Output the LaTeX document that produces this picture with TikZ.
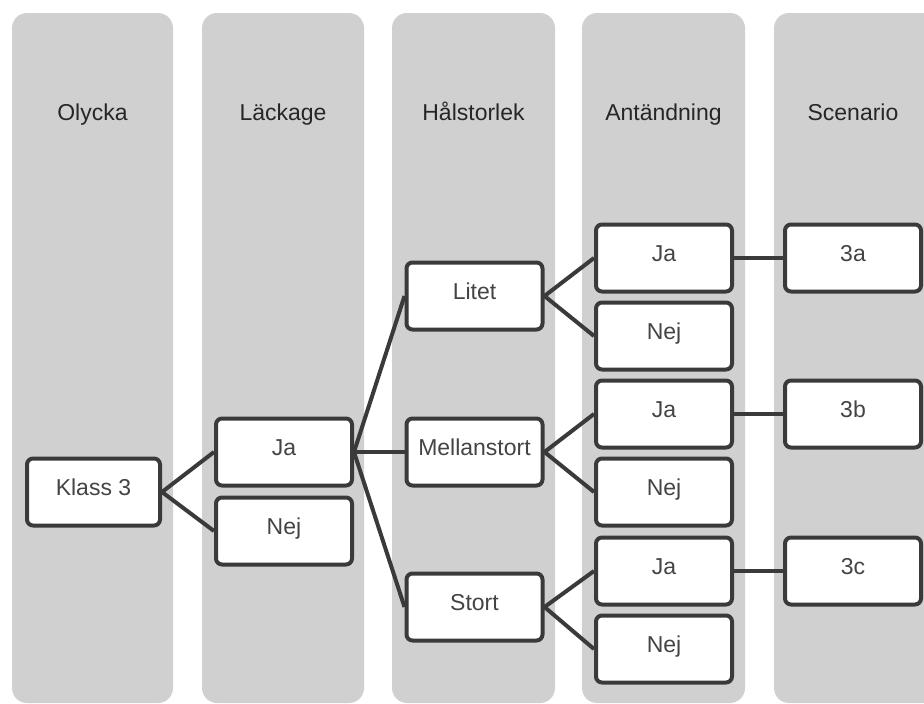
\documentclass[tikz,border=0pt]{standalone}
\usepackage{fontspec}
\setmainfont{Liberation Sans}
\usetikzlibrary{positioning}

\definecolor{laneGray}{HTML}{D0D0D0}
\definecolor{wireGray}{HTML}{3A3A3A}
\definecolor{textGray}{HTML}{444444}

\begin{document}
\begin{tikzpicture}[x=1pt, y=-1pt, font=\fontsize{23}{27}\selectfont,
    lane/.style={fill=laneGray, rounded corners=15pt},
    title/.style={text=black!85, text height=0.72em, text depth=0.08em},
    box/.style={draw=wireGray, fill=white, line width=4pt, rounded corners=6pt,
      minimum width=136pt, minimum height=67pt, inner sep=0pt, text=textGray,
      text height=0.72em, text depth=0.08em},
    link/.style={draw=wireGray, line width=4pt}]

    \clip (0,0) rectangle (924,704);
    \useasboundingbox (0,0) rectangle (924,704);

    %define the lanes
    \fill[lane] (12,13) rectangle (173,703);
    \fill[lane] (202,13) rectangle (364,703);
    \fill[lane] (392,13) rectangle (555,703);
    \fill[lane] (582,13) rectangle (745,703);
    \fill[lane] (774,13) rectangle (940,703);

    \node[title] (tOlycka) at (92.5,117) {Olycka};
    \node[title] (tLackage) at (283,117) {Läckage};
    \node[title] (tHal) at (473.5,117) {Hålstorlek};
    \node[title] (tAnt) at (663.5,117) {Antändning};
    \node[title] (tScen) at (853,117) {Scenario};

    %define the boxes
    \node[box, minimum width=133pt] (klass) at (93.5,492) {Klass 3};
    \node[box] (lJa) at (284,452) {Ja};
    \node[box] (lNej) at (284,531) {Nej};

    \node[box] (litet) at (474.5,296) {Litet};
    \node[box] (mellan) at (474.5,452) {Mellanstort};
    \node[box] (stort) at (474.5,607) {Stort};

    \node[box] (aJa1) at (664,258) {Ja};
    \node[box] (aNej1) at (664,336) {Nej};
    \node[box] (aJa2) at (664,414) {Ja};
    \node[box] (aNej2) at (664,492) {Nej};
    \node[box] (aJa3) at (664,571) {Ja};
    \node[box] (aNej3) at (664,649) {Nej};

    \node[box] (s3a) at (853,258) {3a};
    \node[box] (s3b) at (853,414) {3b};
    \node[box] (s3c) at (853,571) {3c};

    %define the links
    \path[link] (klass.east) edge (lJa.west)
                edge (lNej.west)
    (lJa.east) edge (litet.west)
               edge (mellan.west)
               edge (stort.west)
    (litet.east) edge (aJa1.west)
                 edge (aNej1.west)
    (mellan.east) edge (aJa2.west)
                  edge (aNej2.west)
    (stort.east) edge (aJa3.west)
                 edge (aNej3.west)
    (aJa1) edge (s3a)
    (aJa2) edge (s3b)
    (aJa3) edge (s3c);
\end{tikzpicture}
\end{document}
